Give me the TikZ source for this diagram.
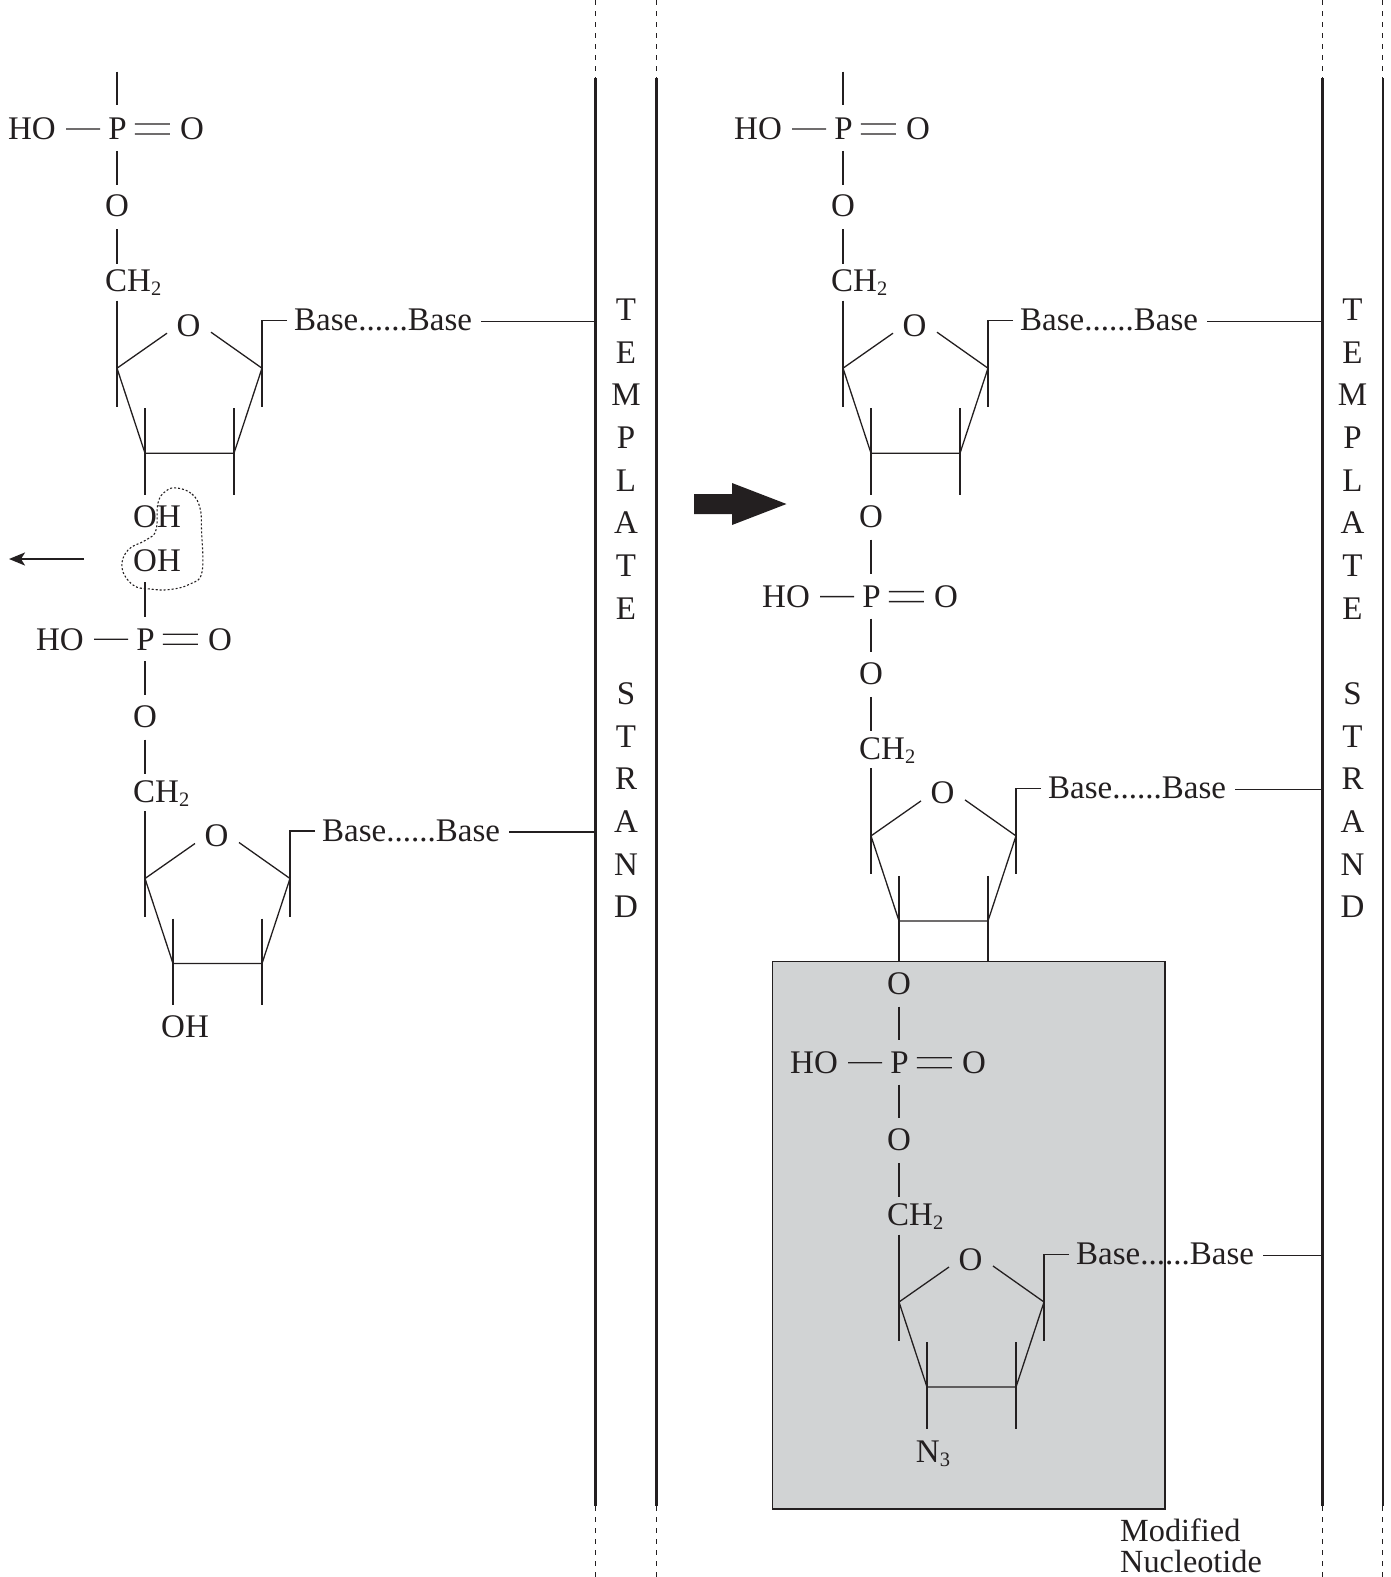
\documentclass[tikz,border=0pt]{standalone}
\usepackage{fontspec}
\setmainfont{Liberation Serif}
\usetikzlibrary{arrows.meta}
\definecolor{ink}{HTML}{231F20}
\definecolor{boxgrey}{HTML}{D1D3D4}
\newcommand\subtwo[1]{{\fontsize{20.5}{20.5}\selectfont\raisebox{-4pt}{#1}}}
\tikzset{
  x=1pt,y=-1pt,
  atom/.style={inner sep=0pt,text=ink,anchor=base,font=\fontsize{33}{33}\selectfont},
  lefttext/.style={atom,anchor=base west},
  captext/.style={lefttext,font=\fontsize{32.3}{32.3}\selectfont},
  bond/.style={draw=ink,line width=1.3pt},
  strandline/.style={draw=ink,line width=2.4pt},
  guide/.style={draw=ink,line width=1pt,dash pattern=on 5pt off 6pt},
  loopline/.style={draw=ink,line width=1.1pt,dash pattern=on 2pt off 2pt},
}
% #1 name, #2 px, #3 py, #4 strand coordinate
\newcommand\nuc[4]{%
 \begin{scope}[shift={(#2,#3)}]
  \node[atom] (#1P) at (0.5,11) {P};
  \node[atom] (#1HO) at (-85,11) {HO};
  \node[atom] (#1Oeq) at (75,11) {O};
  \node[atom] (#1Ob) at (0,88) {O};
  \node[lefttext] (#1CH) at (-12,163) {CH\subtwo{2}};
  \node[atom] (#1Or) at (71.5,207.5) {O};
  \node[lefttext] (#1base) at (177,202) {Base......Base};
  \coordinate (#1rl) at (0,239.5);
  \coordinate (#1rr) at (145,239.5);
  \coordinate (#1bl) at (28,324.5);
  \coordinate (#1br) at (117,324.5);
  \coordinate (#1ol) at (50,204.5);
  \coordinate (#1or) at (94,203.5);
  \coordinate (#1chb) at (0,172);
  \coordinate (#1lend) at (0,278);
  \coordinate (#1tick) at (170,192);
  \coordinate (#1rend) at (145,278);
  \coordinate (#1blt) at (28,279.5);
  \coordinate (#1brt) at (117,279.5);
  \coordinate (#1ble) at (28,366);
  \coordinate (#1bre) at (117,366);
  \coordinate (#1lk) at ([yshift=9pt]#1base.base east);
  \draw[bond,shorten <=8pt,shorten >=10pt] (#1P.west) -- (#1HO.east);
  \draw[bond,shorten <=8pt,shorten >=10pt] ([yshift=5pt]#1P.east) -- ([yshift=5pt]#1Oeq.west);
  \draw[bond,shorten <=8pt,shorten >=10pt] ([yshift=-5pt]#1P.east) -- ([yshift=-5pt]#1Oeq.west);
  \draw[bond,shorten <=11pt,shorten >=10pt] (#1P.south -| #1Ob.south) -- (#1Ob.north);
  \draw[bond,shorten <=12pt,shorten >=6pt] (#1Ob.south) -- (#1Ob.south |- #1CH.north);
  \draw[bond] (#1chb) -- (#1lend);
  \draw[bond] (#1tick) -| (#1rend);
  \draw[bond] (#1ol) -- (#1rl) -- (#1bl) -- (#1br) -- (#1rr) -- (#1or);
  \draw[bond] (#1blt) -- (#1ble);
  \draw[bond] (#1brt) -- (#1bre);
  \draw[bond,shorten <=9pt] (#1lk) -- (#1lk -| #4);
 \end{scope}}
% #1 name, #2 x of the node, #3 baseline
\newcommand\strandtext[2]{%
 \foreach \c/\l/\yy in {T/T/320.5,Ea/E/363.2,M/M/405.8,Pp/P/448.5,L/L/491.1,Aa/A/533.8,Tb/T/576.4,Eb/E/619,S/S/704.4,Tc/T/747,R/R/789.7,Ab/A/832.3,N/N/875,D/D/917.6}
   \node[atom] (#1\c) at (#2,\yy) {\l};}
\begin{document}
\begin{tikzpicture}
\useasboundingbox (0,0) rectangle (1391,1577);
% grey box
\node[draw=ink,line width=1.5pt,fill=boxgrey,inner sep=0pt,minimum width=392.8pt,minimum height=547.3pt,anchor=north west] (gbox) at (771.5,960.7) {};
% strands
\foreach \nm/\xx/\w in {sa/595.5/2.6pt,sb/656.5/2.2pt,sc/1322.7/2.6pt,sd/1382.7/2.2pt}{
  \coordinate (\nm t) at (\xx,0);
  \coordinate (\nm u) at (\xx,78);
  \coordinate (\nm l) at (\xx,1506);
  \coordinate (\nm b) at (\xx,1577);
  \draw[guide] (\nm t) -- (\nm u);
  \draw[strandline,line width=\w] (\nm u) -- (\nm l);
  \draw[guide] (\nm l) -- (\nm b);
}
\strandtext{la}{626}
\strandtext{ra}{1352.5}
% left column
\nuc{a}{117}{128.7}{sau}
\nuc{b}{145}{639}{sau}
\coordinate (atop) at (117,71.5);
\coordinate (atopb) at (117,104.5);
\draw[bond] (atop) -- (atopb);
\node[lefttext] (aoh) at (133,527) {OH};
\node[lefttext] (boh) at (133,571) {OH};
\node[lefttext] (coh) at (161,1037) {OH};
\coordinate (bs1) at (145,582);
\coordinate (bs2) at (145,617);
\draw[bond] (bs1) -- (bs2);
% loop
\draw[loopline] plot[smooth cycle,tension=0.7] coordinates {(177,488) (192,494) (200,508) (201.5,530) (202,572) (190,584) (170,589.5) (150,589) (133,585) (122,568) (128,550) (146,540) (156,530) (158,503) (166,491)};
% left arrow
\coordinate (arrs) at (84,559);
\coordinate (arre) at (9,559);
\draw[draw=ink,line width=2.2pt,-{Stealth[length=16pt,width=13pt,inset=4pt]}] (arrs) -- (arre);
% thick arrow
\fill[ink] (694,494) -- (732,494) -- (732,483) -- (786.5,504) -- (732,525) -- (732,514) -- (694,514) -- cycle;
% right column
\nuc{c}{843}{128.7}{scu}
\nuc{d}{871}{596.4}{scu}
\nuc{e}{899}{1062.5}{scu}
\coordinate (ctop) at (843,71.5);
\coordinate (ctopb) at (843,104.5);
\draw[bond] (ctop) -- (ctopb);
\node[atom] (dtopO) at (871,527) {O};
\node[atom] (etopO) at (899,994) {O};
\draw[bond,shorten <=12pt,shorten >=12pt] (dtopO.south) -- (dtopO.south |- dP.north);
\draw[bond,shorten <=12pt,shorten >=12pt] (etopO.south) -- (etopO.south |- eP.north);
\node[atom] (n3) at (933,1462) {N\subtwo{3}};
\node[captext] (mod) at (1120,1541) {Modified};
\node[captext] (nuc) at (1120,1572.5) {Nucleotide};
\end{tikzpicture}
\end{document}
